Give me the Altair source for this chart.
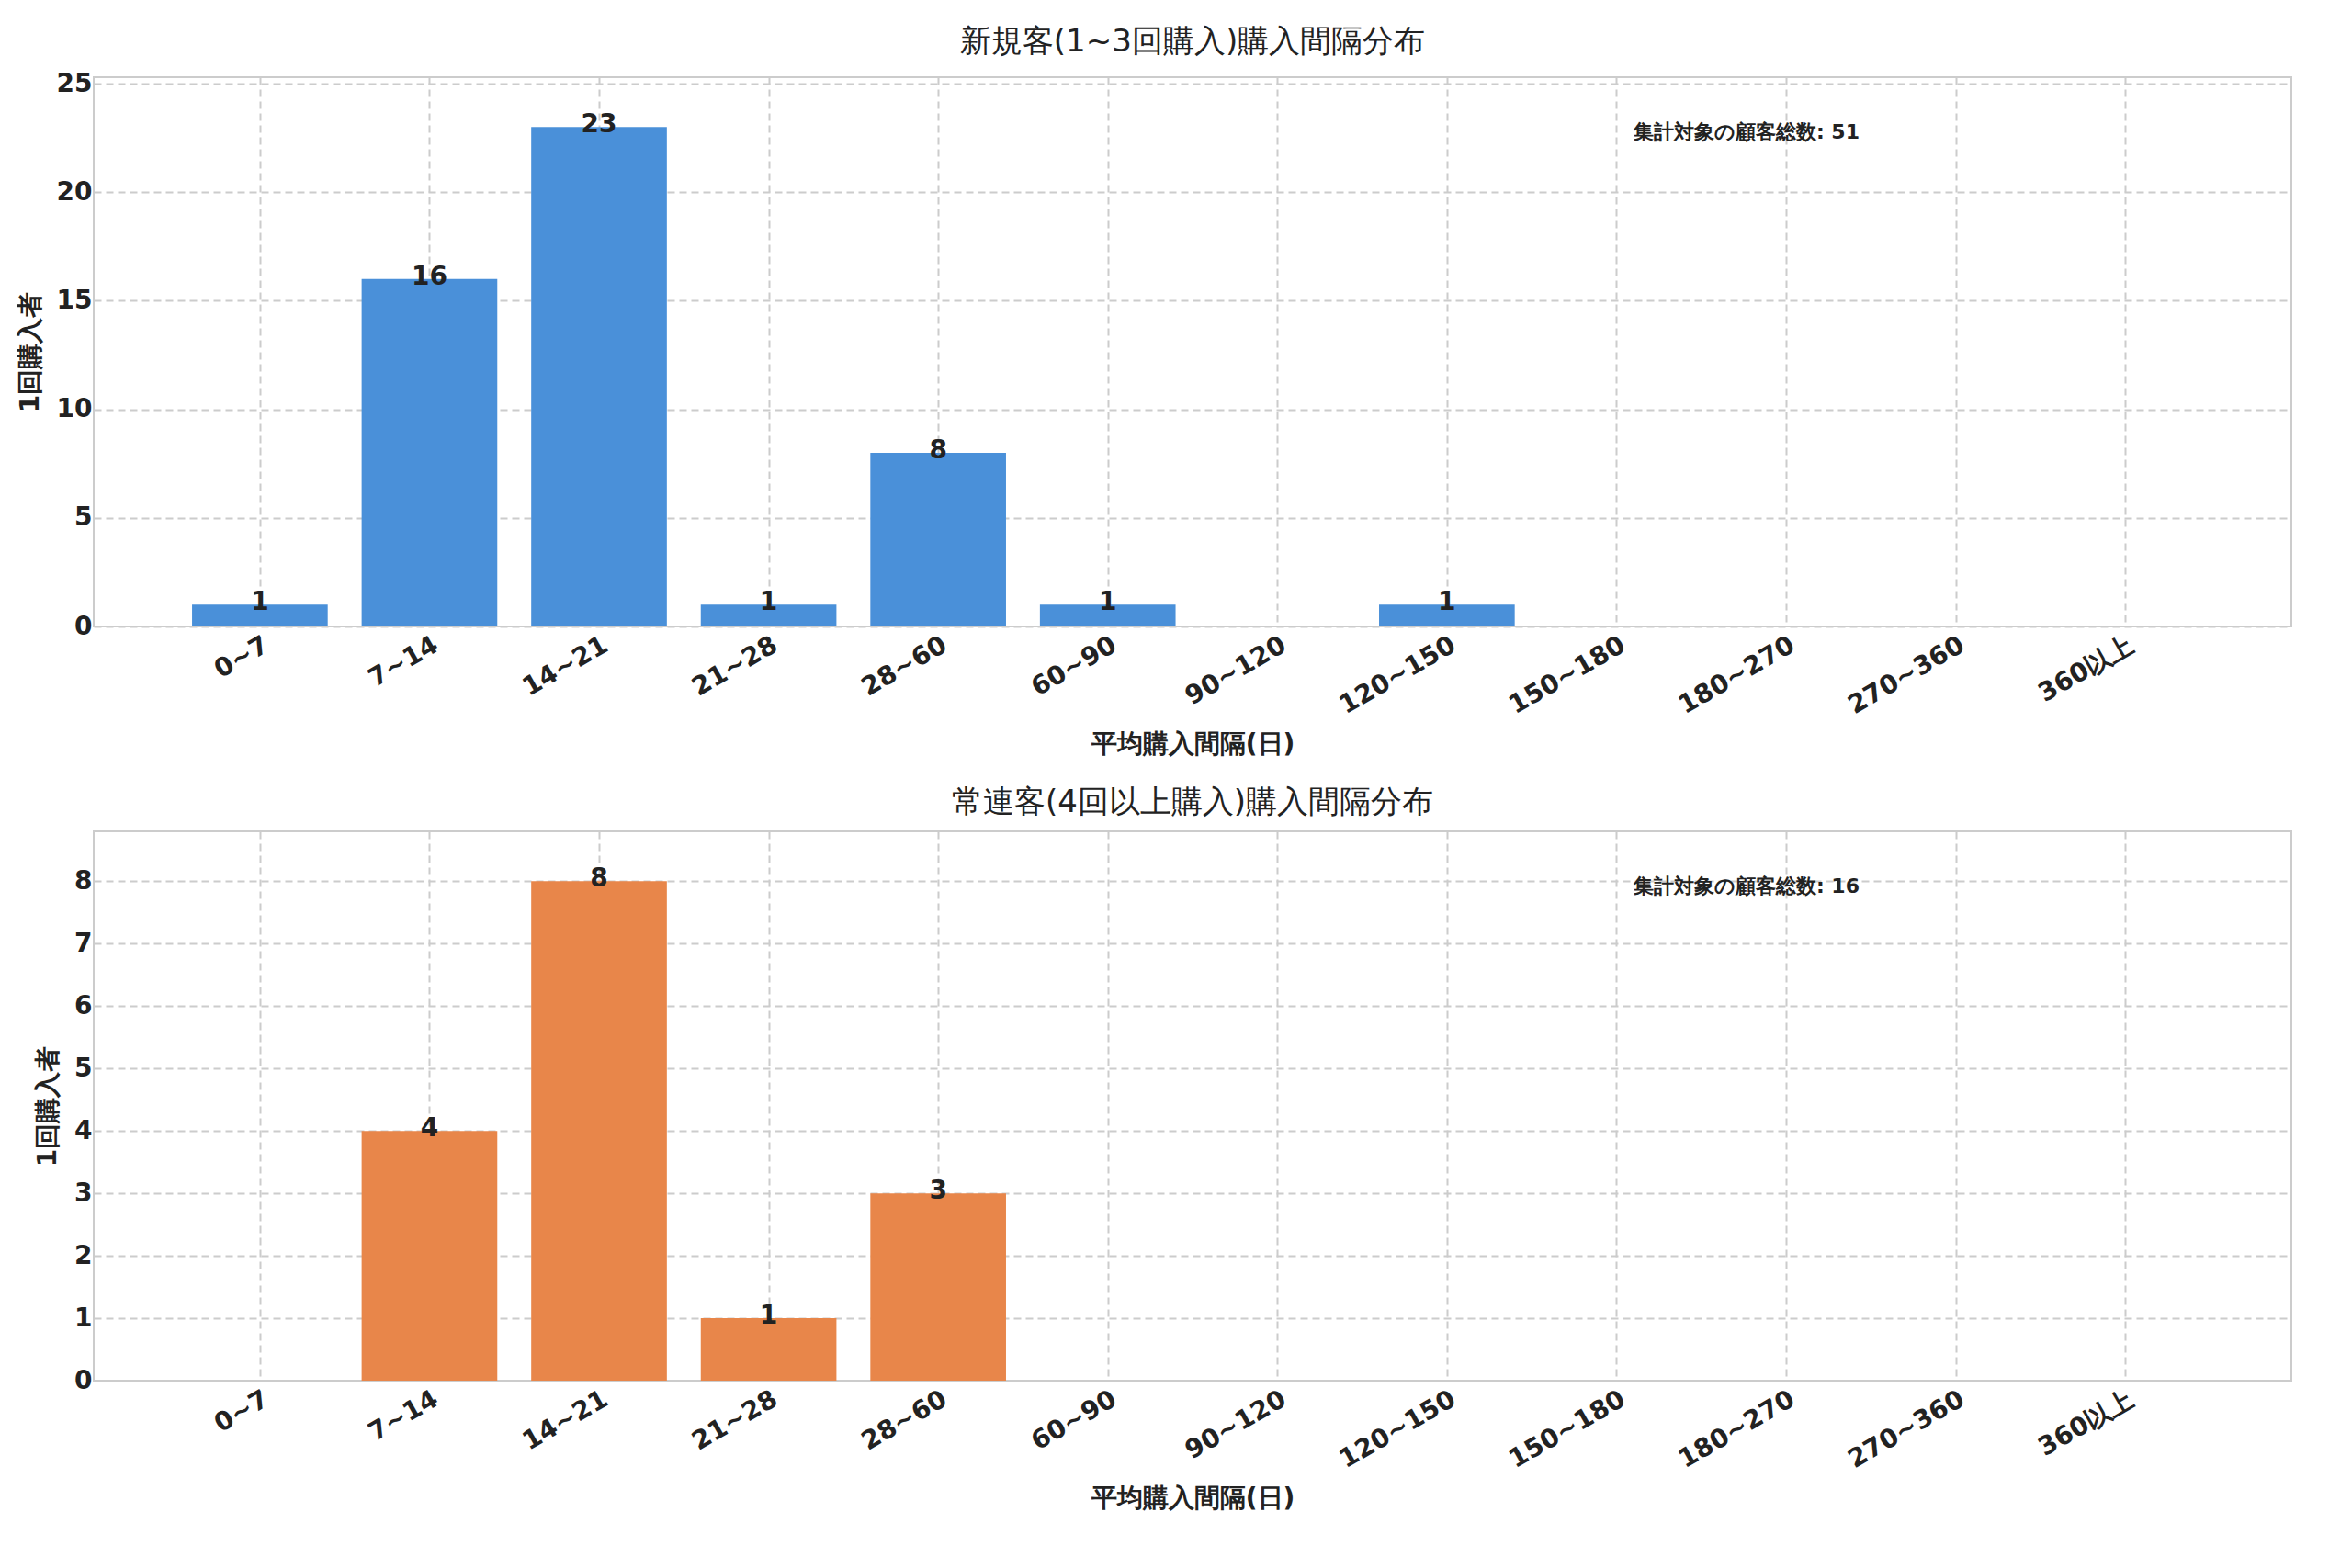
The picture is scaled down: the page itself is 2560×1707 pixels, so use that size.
import altair as alt
import pandas as pd

categories = ["0~7", "7~14", "14~21", "21~28", "28~60", "60~90", "90~120",
              "120~150", "150~180", "180~270", "270~360", "360以上"]
counts_new = [1, 16, 23, 1, 8, 1, 0, 1, 0, 0, 0, 0]
counts_loyal = [0, 4, 8, 1, 3, 0, 0, 0, 0, 0, 0, 0]
titles = ["新規客(1~3回購入)購入間隔分布", "常連客(4回以上購入)購入間隔分布"]
totals = [51, 16]
colors = ["#4A90D9", "#E8864A"]
ymax = [25.3, 8.8]
yticks = [list(range(0, 26, 5)), list(range(0, 9))]

FONT = "DejaVu Sans"
label_arr = "[" + ",".join(f"'{c}'" for c in categories) + "]"


def panel(counts, title, total, color, top, ticks):
    df = pd.DataFrame({"i": list(range(len(categories))), "cat": categories, "n": counts})
    base = alt.Chart(df).transform_calculate(x0="datum.i - 0.4", x1="datum.i + 0.4")
    x = alt.X("x0:Q", title="平均購入間隔(日)",
              scale=alt.Scale(domain=[-0.98, 11.98], nice=False, zero=False),
              axis=alt.Axis(values=list(range(12)), labelExpr=f"{label_arr}[datum.value]",
                            labelAngle=-30, labelAlign="right", labelBaseline="top",
                            labelFontSize=28, labelFontWeight="bold", labelPadding=6,
                            titleFontSize=28, titleFontWeight="bold", titlePadding=14,
                            grid=True, gridDash=[8, 5], gridColor="#cccccc", gridWidth=2,
                            ticks=False, domain=False))
    y = alt.Y("n:Q", title="1回購入者",
              scale=alt.Scale(domain=[0, top], nice=False),
              axis=alt.Axis(values=ticks, format="d", labelFontSize=28, labelFontWeight="bold",
                            titleFontSize=28, titleFontWeight="bold", titlePadding=14,
                            grid=True, gridDash=[8, 5], gridColor="#cccccc", gridWidth=2,
                            ticks=False, domain=False))
    bars = base.transform_filter("datum.n > 0").mark_bar(color=color).encode(
        x=x, x2="x1:Q", y=y, y2=alt.datum(0))
    labels = alt.Chart(df).transform_filter("datum.n > 0").mark_text(
        baseline="bottom", dy=12, fontSize=28, fontWeight="bold", font=FONT, color="#222"
    ).encode(x=alt.X("i:Q"), y=alt.Y("n:Q"), text="n:Q")
    note = alt.Chart(pd.DataFrame({"t": [f"集計対象の顧客総数: {total}"], "x": [8.1], "y": [top * 0.9]})
                     ).mark_text(align="left", baseline="middle", fontSize=22, fontWeight="bold",
                                 font=FONT, color="#222").encode(x="x:Q", y="y:Q", text="t:N")
    return alt.layer(bars, labels, note).properties(
        width=2392, height=598,
        title=alt.TitleParams(title, fontSize=34, fontWeight="normal", font=FONT, color="#222", offset=14))


chart = alt.vconcat(
    panel(counts_new, titles[0], totals[0], colors[0], ymax[0], yticks[0]),
    panel(counts_loyal, titles[1], totals[1], colors[1], ymax[1], yticks[1]),
    spacing=30,
).configure(font=FONT).configure_view(stroke="#cccccc", strokeWidth=2).configure_axis(
    labelColor="#222", titleColor="#222", labelFont=FONT, titleFont=FONT
).properties(background="white", padding={"left": 10, "top": 20, "right": 10, "bottom": 10})

chart.save("out.html", embed_options={"renderer": "svg", "actions": False})
